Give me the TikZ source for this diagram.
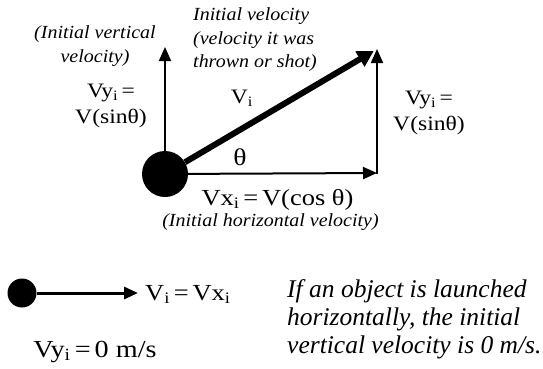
\documentclass[tikz,border=0pt]{standalone}
\usepackage{fontspec}
\setmainfont{Liberation Serif}[FakeStretch=1.15]
\newfontfamily\noteit{Liberation Serif Italic}[FakeStretch=1.08]
\newfontfamily\bigit{Liberation Serif Italic}
\usetikzlibrary{arrows.meta}
\newcommand\sbi{\textsubscript{i}}
\tikzset{
  lab/.style={font=\fontsize{20.5}{26}\selectfont, align=center, inner sep=0pt},
  note/.style={font=\fontsize{18.5}{23.5}\selectfont\noteit, inner sep=0pt},
  big/.style={font=\fontsize{24.5}{28}\selectfont, inner sep=0pt},
  bignote/.style={font=\fontsize{25.5}{28}\selectfont\bigit, inner sep=0pt, align=left},
  thinarrow/.style={line width=2pt, -{Triangle[length=14pt,width=12pt]}},
  fatarrow/.style={line width=6pt, -{Triangle[length=16pt,width=17pt]}, shorten >=-2pt},
  midarrow/.style={line width=3pt, -{Triangle[length=14pt,width=12pt]}},
  ball/.style={circle, fill=black, inner sep=0pt}
}
\begin{document}
\begin{tikzpicture}[x=1pt,y=-1pt]
\useasboundingbox (0,0) rectangle (543,368);
% upper diagram
\node[ball, minimum size=46pt] (b) at (165,174) {};
\coordinate (tipL) at (165,47);
\coordinate (corner) at (377,173);
\coordinate (tipR) at (377,49);
\coordinate (tipV) at (372,52);
\draw[thinarrow] (b) -- (tipL);
\draw[thinarrow] (b) -- (corner);
\draw[line width=2pt] (corner) -- ([yshift=-1pt]corner);
\draw[thinarrow] (corner) -- (tipR);
\draw[fatarrow] (b) -- (tipV);
\node[note, align=center] (nv) at (95,46) {(Initial vertical\\velocity)};
\node[lab] (vyl) at (111,106) {Vy\sbi\,=\\V(sinθ)};
\node[note, align=left, anchor=west] (nvi) at (193,40) {Initial velocity\\(velocity it was\\thrown or shot)};
\node[lab] (vi) at (242,98) {V\sbi};
\node[lab, font=\fontsize{24}{26}\selectfont] (th) at (240,157) {θ};
\node[lab] (vyr) at (429,113) {Vy\sbi\,=\\V(sinθ)};
\node[lab, font=\fontsize{23}{26}\selectfont, anchor=base] (vx) at (277.5,205) {Vx\sbi\,=\,V(cos θ)};
\node[note] (nh) at (270.5,222) {(Initial horizontal velocity)};
% lower diagram
\node[ball, minimum size=29pt] (sb) at (22,293) {};
\coordinate (stip) at (138,293);
\draw[midarrow] (sb) -- (stip);
\node[big, font=\fontsize{23}{28}\selectfont, anchor=base west] (vivx) at (145,300) {V\sbi\,=\,Vx\sbi};
\node[big, anchor=base] (vy0) at (95,357) {Vy\sbi\,=\,0 m/s};
\node[bignote, anchor=west] (txt) at (287,319) {If an object is launched\\horizontally, the initial\\vertical velocity is 0 m/s.};
\end{tikzpicture}
\end{document}
